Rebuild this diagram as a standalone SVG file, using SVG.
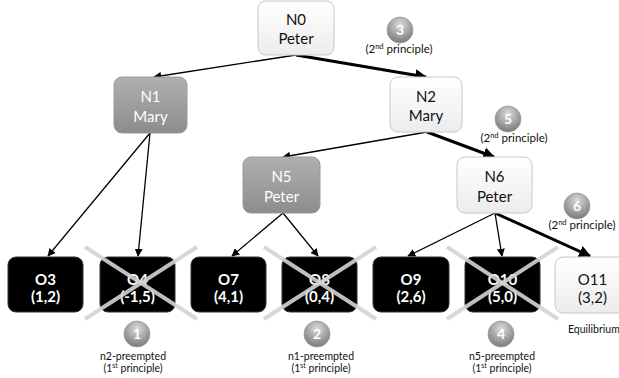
<svg xmlns="http://www.w3.org/2000/svg" width="619" height="378" viewBox="0 0 619 378">
<defs>
<linearGradient id="gW" x1="0" y1="0" x2="0" y2="1"><stop offset="0" stop-color="#ffffff"/><stop offset="1" stop-color="#ececec"/></linearGradient>
<linearGradient id="gG" x1="0" y1="0" x2="0" y2="1"><stop offset="0" stop-color="#b0b0b0"/><stop offset="1" stop-color="#8c8c8c"/></linearGradient>
<radialGradient id="gC" cx="0.5" cy="0.3" r="0.7"><stop offset="0" stop-color="#dcdcdc"/><stop offset="0.6" stop-color="#a0a0a0"/><stop offset="1" stop-color="#7a7a7a"/></radialGradient>
<marker id="ah" viewBox="0 0 10 10" refX="9" refY="5" markerWidth="8" markerHeight="8" markerUnits="userSpaceOnUse" orient="auto"><path d="M0,0 L10,5 L0,10 z" fill="#000"/></marker>
<marker id="ahT" viewBox="0 0 10 10" refX="9" refY="5" markerWidth="12" markerHeight="12" markerUnits="userSpaceOnUse" orient="auto"><path d="M0,0 L10,5 L0,10 z" fill="#000"/></marker>
</defs>
<style>
.wn{fill:url(#gW);stroke:#c8c8c8;stroke-width:1}
.gn{fill:url(#gG);stroke:#9a9a9a;stroke-width:1}
.bn{fill:#000;stroke:#333;stroke-width:1}
text{font-family:Lato,"Liberation Sans",sans-serif;text-anchor:middle}
.t{font-size:15px;fill:#111}
.tw{font-size:15px;fill:#fff}
.tb{font-size:15px;fill:#fff;font-weight:bold}
.c{fill:url(#gC);stroke:#9a9a9a;stroke-width:0.8}
.cn{font-size:14px;fill:#fff;font-weight:bold}
.lb{font-size:10.5px;fill:#111}
.lp{font-size:11.5px;fill:#111}
.e{stroke:#000;stroke-width:1.3;fill:none;marker-end:url(#ah)}
.et{stroke:#000;stroke-width:3;fill:none;marker-end:url(#ahT)}
.x{stroke:#d4d4d4;stroke-width:4;stroke-opacity:0.9}
</style>
<g id="connectors">
<line class="e" x1="296" y1="55" x2="154" y2="77"/>
<line class="et" x1="296" y1="55" x2="426" y2="77"/>
<line class="e" x1="150" y1="133" x2="48" y2="256"/>
<line class="e" x1="150" y1="133" x2="138" y2="256"/>
<line class="e" x1="427" y1="132" x2="283" y2="157"/>
<line class="et" x1="427" y1="132" x2="494" y2="157"/>
<line class="e" x1="283" y1="213" x2="232" y2="256"/>
<line class="e" x1="283" y1="213" x2="318" y2="256"/>
<line class="e" x1="495" y1="213" x2="408" y2="256"/>
<line class="e" x1="495" y1="213" x2="502" y2="256"/>
<line class="et" x1="495" y1="213" x2="590" y2="256"/>
</g>
<g id="N0"><rect class="wn" x="258" y="1" width="76" height="54" rx="8"/><text class="t" x="296" y="25">N0</text><text class="t" x="296" y="44">Peter</text></g>
<g id="N1"><rect class="gn" x="114" y="77" width="73" height="56" rx="8"/><text class="tw" x="150.5" y="102">N1</text><text class="tw" x="150.5" y="122">Mary</text></g>
<g id="N2"><rect class="wn" x="390" y="77" width="72" height="55" rx="8"/><text class="t" x="426" y="102">N2</text><text class="t" x="426" y="121">Mary</text></g>
<g id="N5"><rect class="gn" x="243" y="157" width="77" height="56" rx="8"/><text class="tw" x="281.5" y="182">N5</text><text class="tw" x="281.5" y="202">Peter</text></g>
<g id="N6"><rect class="wn" x="457" y="157" width="75" height="56" rx="8"/><text class="t" x="494.5" y="182">N6</text><text class="t" x="494.5" y="202">Peter</text></g>
<g id="O3"><rect class="bn" x="8" y="257" width="75" height="55" rx="8"/><text class="tb" x="45.5" y="285">O3</text><text class="tb" x="45.5" y="302">(1,2)</text></g>
<g id="O4"><rect class="bn" x="100" y="257" width="75" height="55" rx="8"/><text class="tb" x="137.5" y="285">O4</text><text class="tb" x="137.5" y="302">(-1,5)</text></g>
<g id="O7"><rect class="bn" x="191" y="257" width="75" height="55" rx="8"/><text class="tb" x="228.5" y="285">O7</text><text class="tb" x="228.5" y="302">(4,1)</text></g>
<g id="O8"><rect class="bn" x="282" y="257" width="75" height="55" rx="8"/><text class="tb" x="319.5" y="285">O8</text><text class="tb" x="319.5" y="302">(0,4)</text></g>
<g id="O9"><rect class="bn" x="373" y="257" width="76" height="55" rx="8"/><text class="tb" x="411" y="285">O9</text><text class="tb" x="411" y="302">(2,6)</text></g>
<g id="O10"><rect class="bn" x="465" y="257" width="75" height="55" rx="8"/><text class="tb" x="502.5" y="285">O10</text><text class="tb" x="502.5" y="302">(5,0)</text></g>
<g id="O11"><rect class="wn" x="555" y="257" width="75" height="56" rx="8"/><text class="t" x="592.5" y="285">O11</text><text class="t" x="592.5" y="303">(3,2)</text></g>
<g id="crosses">
<line class="x" x1="85" y1="247" x2="197" y2="319"/><line class="x" x1="85" y1="319" x2="197" y2="247"/>
<line class="x" x1="264" y1="247" x2="376" y2="319"/><line class="x" x1="264" y1="319" x2="376" y2="247"/>
<line class="x" x1="447" y1="247" x2="558" y2="319"/><line class="x" x1="447" y1="319" x2="558" y2="247"/>
</g>
<g id="L3"><circle class="c" cx="400" cy="30" r="13"/><text class="cn" x="400" y="35">3</text><text class="lp" x="399" y="53">(2<tspan font-size="7.5" dy="-4">nd</tspan><tspan dy="4"> principle)</tspan></text></g>
<g id="L5"><circle class="c" cx="508" cy="119" r="13"/><text class="cn" x="508" y="124">5</text><text class="lp" x="514" y="142">(2<tspan font-size="7.5" dy="-4">nd</tspan><tspan dy="4"> principle)</tspan></text></g>
<g id="L6"><circle class="c" cx="577" cy="206" r="13"/><text class="cn" x="577" y="211">6</text><text class="lp" x="582" y="229">(2<tspan font-size="7.5" dy="-4">nd</tspan><tspan dy="4"> principle)</tspan></text></g>
<g id="L1"><circle class="c" cx="137" cy="334" r="13"/><text class="cn" x="137" y="339">1</text><text class="lb" x="133" y="360">n2-preempted</text><text class="lb" x="133" y="372">(1<tspan font-size="7" dy="-4">st</tspan><tspan dy="4"> principle)</tspan></text></g>
<g id="L2"><circle class="c" cx="317" cy="334" r="13"/><text class="cn" x="317" y="339">2</text><text class="lb" x="321" y="360">n1-preempted</text><text class="lb" x="321" y="372">(1<tspan font-size="7" dy="-4">st</tspan><tspan dy="4"> principle)</tspan></text></g>
<g id="L4"><circle class="c" cx="501" cy="334" r="13"/><text class="cn" x="501" y="339">4</text><text class="lb" x="502" y="360">n5-preempted</text><text class="lb" x="502" y="372">(1<tspan font-size="7" dy="-4">st</tspan><tspan dy="4"> principle)</tspan></text></g>
<g id="Leq"><text class="lb" x="568" y="333" style="text-anchor:start">Equilibrium</text></g>
</svg>
